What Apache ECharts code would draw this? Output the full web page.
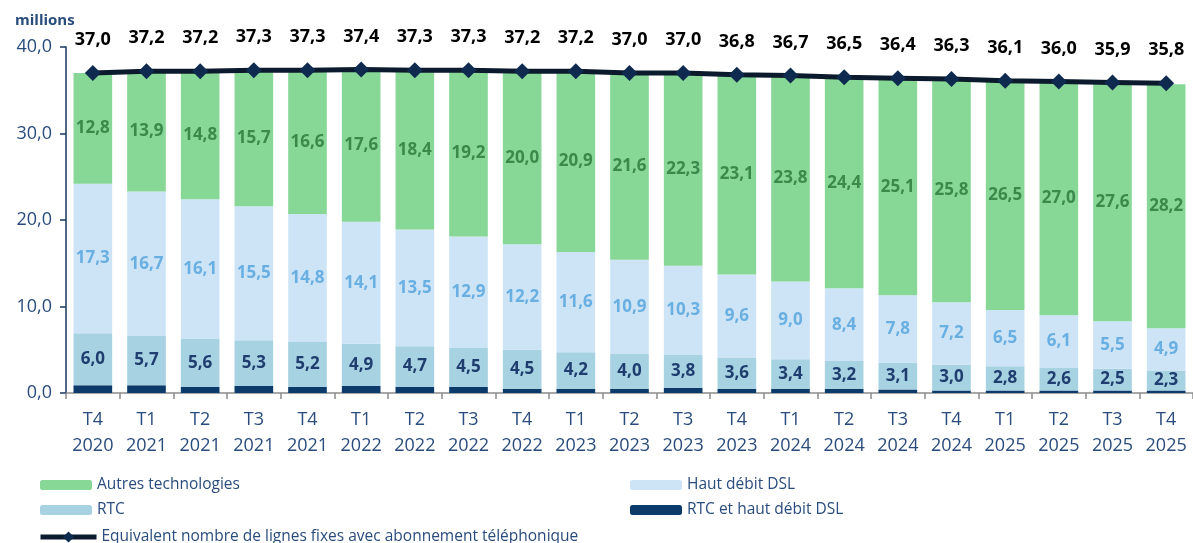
<!DOCTYPE html>
<html>
<head>
<meta charset="utf-8">
<script src="https://cdn.jsdelivr.net/npm/echarts@6/dist/echarts.min.js"></script>
<style>
  html, body { margin: 0; padding: 0; background: #fff; }
  #chart { width: 1193px; height: 543px; }
</style>
</head>
<body>
<div id="chart"></div>
<script>
  // trimestres
  const categories = ['T4\n2020', 'T1\n2021', 'T2\n2021', 'T3\n2021', 'T4\n2021', 'T1\n2022', 'T2\n2022',
    'T3\n2022', 'T4\n2022', 'T1\n2023', 'T2\n2023', 'T3\n2023', 'T4\n2023', 'T1\n2024', 'T2\n2024',
    'T3\n2024', 'T4\n2024', 'T1\n2025', 'T2\n2025', 'T3\n2025', 'T4\n2025']

  // millions de lignes
  const rtcDsl = [0.9, 0.9, 0.7, 0.8, 0.7, 0.8, 0.7, 0.7, 0.5, 0.5, 0.5, 0.6, 0.5, 0.5, 0.5, 0.4, 0.3, 0.3, 0.3, 0.3, 0.3]
  const rtc = [6.0, 5.7, 5.6, 5.3, 5.2, 4.9, 4.7, 4.5, 4.5, 4.2, 4.0, 3.8, 3.6, 3.4, 3.2, 3.1, 3.0, 2.8, 2.6, 2.5, 2.3]
  const hautDebitDsl = [17.3, 16.7, 16.1, 15.5, 14.8, 14.1, 13.5, 12.9, 12.2, 11.6, 10.9, 10.3, 9.6, 9.0, 8.4, 7.8, 7.2, 6.5, 6.1, 5.5, 4.9]
  const autres = [12.8, 13.9, 14.8, 15.7, 16.6, 17.6, 18.4, 19.2, 20.0, 20.9, 21.6, 22.3, 23.1, 23.8, 24.4, 25.1, 25.8, 26.5, 27.0, 27.6, 28.2]
  const equivalent = [37.0, 37.2, 37.2, 37.3, 37.3, 37.4, 37.3, 37.3, 37.2, 37.2, 37.0, 37.0, 36.8, 36.7, 36.5, 36.4, 36.3, 36.1, 36.0, 35.9, 35.8]

  const yTicks = [0, 10, 20, 30, 40]

  const fmt = v => v.toFixed(1).replace('.', ',')
  const font = '"Open Sans", "Noto Sans", sans-serif'
  const textBlue = '#2A4C7D'

  const chart = echarts.init(document.getElementById('chart'))

  const barLabel = (color) => ({
    show: true,
    position: 'inside',
    color: color,
    fontFamily: font,
    fontWeight: 'bold',
    fontSize: 17,
    formatter: p => fmt(p.value)
  })

  const legendText = { color: textBlue, fontFamily: font, fontSize: 15.5 }

  const option = {
    animation: false,
    title: {
      text: 'millions',
      left: 10,
      top: 8,
      textStyle: { color: textBlue, fontFamily: font, fontSize: 15, fontWeight: 'bold' }
    },
    grid: { left: 66, top: 47, width: 1130, bottom: 150 },
    legend: [
      {
        left: 35, top: 472, orient: 'vertical', itemWidth: 52, itemHeight: 10, itemGap: 9,
        data: ['Autres technologies', 'RTC'], textStyle: legendText
      },
      {
        left: 625, top: 472, orient: 'vertical', itemWidth: 52, itemHeight: 10, itemGap: 9,
        data: ['Haut débit DSL', 'RTC et haut débit DSL'], textStyle: legendText
      },
      {
        left: 33, top: 524, itemWidth: 56, itemHeight: 14,
        lineStyle: { width: 5, color: '#0B1A2C' },
        data: ['Equivalent nombre de lignes fixes avec abonnement téléphonique'], textStyle: legendText
      }
    ],
    xAxis: {
      type: 'category',
      data: categories,
      axisLine: { lineStyle: { color: '#8C8C8C', width: 1.5 } },
      axisTick: { show: true, length: 6, lineStyle: { color: '#8C8C8C', width: 1.5 } },
      axisLabel: {
        color: textBlue, fontFamily: font, fontSize: 18, lineHeight: 26, margin: 14, interval: 0
      }
    },
    yAxis: {
      type: 'value',
      min: yTicks[0],
      max: yTicks[yTicks.length - 1],
      interval: 10,
      splitLine: { show: false },
      axisLine: { show: true, lineStyle: { color: '#17365D', width: 1.5 } },
      axisTick: { show: true, length: 6, lineStyle: { color: '#17365D', width: 1.5 } },
      axisLabel: {
        color: textBlue, fontFamily: font, fontSize: 18, margin: 14,
        formatter: v => fmt(v)
      }
    },
    series: [
      {
        name: 'RTC et haut débit DSL', type: 'bar', stack: 'total', data: rtcDsl,
        barCategoryGap: '28%', itemStyle: { color: '#0B3A6B' }
      },
      {
        name: 'RTC', type: 'bar', stack: 'total', data: rtc,
        itemStyle: { color: '#A6D2E1' }, label: barLabel('#1F3D6E')
      },
      {
        name: 'Haut débit DSL', type: 'bar', stack: 'total', data: hautDebitDsl,
        itemStyle: { color: '#CDE4F6' }, label: barLabel('#6AAFE2')
      },
      {
        name: 'Autres technologies', type: 'bar', stack: 'total', data: autres,
        itemStyle: { color: '#87D797' }, label: barLabel('#3B8A4A')
      },
      {
        name: 'Equivalent nombre de lignes fixes avec abonnement téléphonique',
        type: 'line', data: equivalent, z: 5,
        symbol: 'diamond', symbolSize: 16,
        lineStyle: { color: '#0B1A2C', width: 5 },
        itemStyle: { color: '#0E2A4F' },
        label: {
          show: true, position: 'top', distance: 16,
          color: '#000', fontFamily: font, fontWeight: 'bold', fontSize: 18,
          formatter: p => fmt(p.value)
        }
      }
    ]
  }

  chart.setOption(option)
</script>
</body>
</html>
